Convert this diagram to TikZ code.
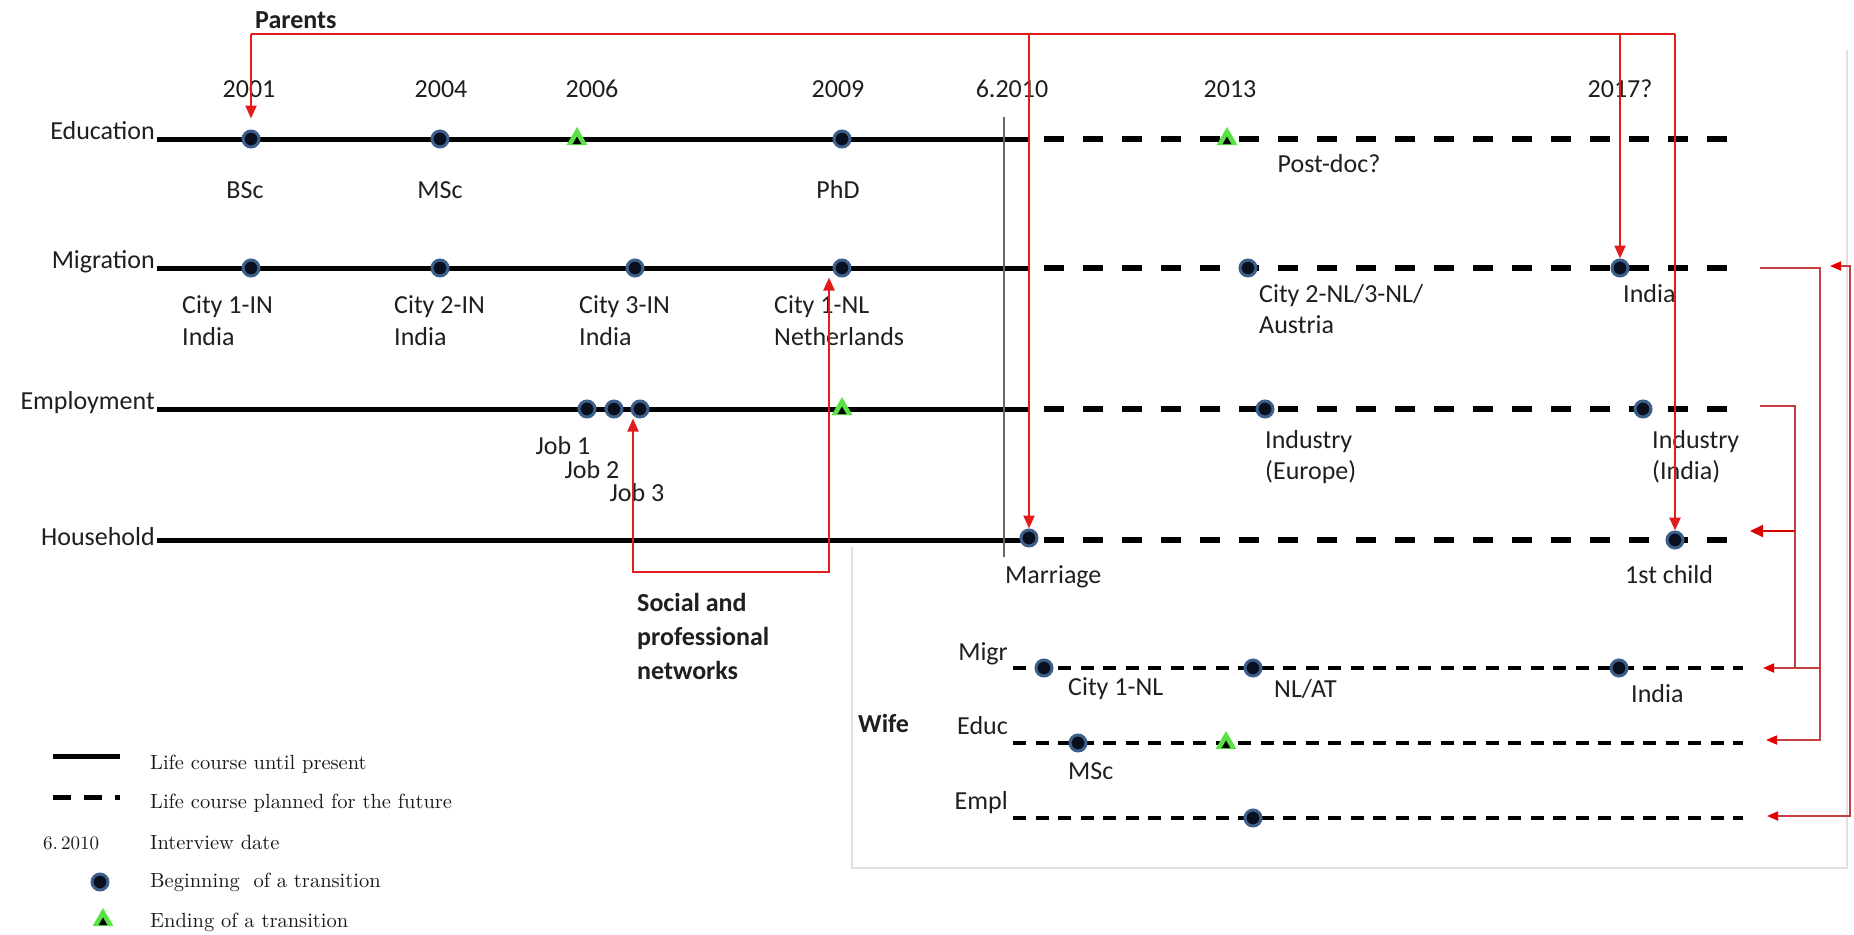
\documentclass[tikz,border=0pt]{standalone}
\usepackage{fontspec}
\newfontfamily\calib{Carlito}
\newfontfamily\legfont{lmroman10-regular}[Extension=.otf]
\usetikzlibrary{arrows.meta,shapes.geometric}
\definecolor{ring}{RGB}{60,95,140}
\definecolor{core}{RGB}{10,15,30}
\definecolor{tgreen}{RGB}{90,225,70}
\definecolor{pred}{RGB}{226,28,28}
\definecolor{rred}{RGB}{196,62,62}
\definecolor{framec}{RGB}{225,225,225}
\newcommand\tri[2]{\node[trig] (#1) at (#2) {}; \node[trib] (#1b) at ([yshift=-2.5pt]#1.center) {};}
\begin{document}
\begin{tikzpicture}[x=1pt,y=-1pt,
  lbl/.style={font=\calib\fontsize{26}{32}\selectfont, inner sep=0pt, text=black!88},
  bl/.style={lbl, font=\calib\bfseries\fontsize{26}{34}\selectfont},
  leg/.style={inner sep=0pt, anchor=base west, font=\legfont\fontsize{20.5}{24}\selectfont, text=black!90},
  life/.style={line width=5pt},
  plan/.style={line width=5.5pt, dash pattern=on 20pt off 19pt},
  wplan/.style={line width=3.5pt, dash pattern=on 13pt off 9.5pt},
  dot/.style={circle, fill=core, draw=ring, line width=3pt, minimum size=16pt, inner sep=0pt},
  trig/.style={regular polygon, regular polygon sides=3, fill=tgreen, minimum size=24pt, inner sep=0pt},
  trib/.style={regular polygon, regular polygon sides=3, fill=black, minimum size=10pt, inner sep=0pt},
  pline/.style={draw=pred, line width=2.3pt},
  parr/.style={pline, -{Triangle[length=13pt,width=11pt]}},
  pboth/.style={pline, {Triangle[length=13pt,width=11pt]}-{Triangle[length=13pt,width=11pt]}},
  rlink/.style={draw=rred, line width=1.8pt},
  rtip/.style={-{Triangle[length=11pt,width=9pt,color=red!90!black]}},
  rtips/.style={{Triangle[length=11pt,width=9pt,color=red!90!black]}-{Triangle[length=11pt,width=9pt,color=red!90!black]}},
  ]
\useasboundingbox (0,0) rectangle (1854,934);
\fill[white] (0,0) rectangle (1854,934);

% faint frame of the wife panel
\draw[framec, line width=1.5pt] (852,547) -- (852,868) -- (1847,868) -- (1847,50);

% timelines
\foreach \yy in {139,268,409,540}{
  \draw[life] (157,\yy) -- (1028,\yy);
  \draw[plan] (1044,\yy) -- (1733,\yy);
}
\foreach \yy in {668,743,818}{
  \draw[wplan] (1013,\yy) -- (1743,\yy);
}
% interview date line
\draw[line width=2.5pt, black!60] (1004,117) -- (1004,557);

% events: education
\node[dot] (e1) at (251,139) {};
\node[dot] (e2) at (440,139) {};
\tri{e3}{577,139}
\node[dot] (e4) at (842,139) {};
\tri{e5}{1227,139}
% migration
\node[dot] (m1) at (251,268) {};
\node[dot] (m2) at (440,268) {};
\node[dot] (m3) at (635,268) {};
\node[dot] (m4) at (842,268) {};
\node[dot] (m5) at (1248,268) {};
\node[dot] (m6) at (1620,268) {};
% employment
\node[dot] (p1) at (587,409) {};
\node[dot] (p2) at (614,409) {};
\node[dot] (p3) at (640,409) {};
\tri{p4}{842,409}
\node[dot] (p5) at (1265,409) {};
\node[dot] (p6) at (1643,409) {};
% household
\node[dot] (h1) at (1029,538) {};
\node[dot] (h2) at (1675,540) {};
% wife
\node[dot] (w1) at (1044,668) {};
\node[dot] (w2) at (1253,668) {};
\node[dot] (w3) at (1619,668) {};
\node[dot] (w4) at (1078,743) {};
\tri{w5}{1226,743}
\node[dot] (w6) at (1253,818) {};

% texts
\node[bl, anchor=base west] (par) at (255,29) {Parents};
\node[lbl] (y1) at (249,89) {2001};
\node[lbl] (y2) at (441,89) {2004};
\node[lbl] (y3) at (592,89) {2006};
\node[lbl] (y4) at (838,89) {2009};
\node[lbl] (y5) at (1012,89) {6.2010};
\node[lbl] (y6) at (1230,89) {2013};
\node[lbl] (y7) at (1620,89) {2017?};

\node[lbl, anchor=base east] (Ledu) at (155,139) {Education};
\node[lbl, anchor=base east] (Lmig) at (155,268) {Migration};
\node[lbl, anchor=base east] (Lemp) at (155,409) {Employment};
\node[lbl, anchor=base east] (Lhh) at (155,545) {Household};

\node[lbl, anchor=base] (t1) at (245,198) {BSc};
\node[lbl, anchor=base] (t2) at (440,198) {MSc};
\node[lbl, anchor=base] (t3) at (838,198) {PhD};
\node[lbl, anchor=base] (t4) at (1329,172) {Post-doc?};

\node[lbl, anchor=base west] (c1a) at (182,313) {City 1-IN};
\node[lbl, anchor=base west] (c1b) at (182,345) {India};
\node[lbl, anchor=base west] (c2a) at (394,313) {City 2-IN};
\node[lbl, anchor=base west] (c2b) at (394,345) {India};
\node[lbl, anchor=base west] (c3a) at (579,313) {City 3-IN};
\node[lbl, anchor=base west] (c3b) at (579,345) {India};
\node[lbl, anchor=base west] (c4a) at (774,313) {City 1-NL};
\node[lbl, anchor=base west] (c4b) at (774,345) {Netherlands};
\node[lbl, anchor=base west] (c5a) at (1259,302) {City 2-NL/3-NL/};
\node[lbl, anchor=base west] (c5b) at (1259,333) {Austria};
\node[lbl, anchor=base west] (c6) at (1623,302) {India};

\node[lbl, anchor=base] (j1) at (563,454) {Job 1};
\node[lbl, anchor=base] (j2) at (592,478) {Job 2};
\node[lbl, anchor=base] (j3) at (637,501) {Job 3};
\node[lbl, anchor=base west] (i1a) at (1265,448) {Industry};
\node[lbl, anchor=base west] (i1b) at (1265,479) {(Europe)};
\node[lbl, anchor=base west] (i2a) at (1652,448) {Industry};
\node[lbl, anchor=base west] (i2b) at (1652,479) {(India)};

\node[lbl, anchor=base west] (mar) at (1005,583) {Marriage};
\node[lbl, anchor=base west] (chi) at (1625,583) {1st child};

\node[bl, anchor=base west] (n1) at (637,611) {Social and};
\node[bl, anchor=base west] (n2) at (637,645) {professional};
\node[bl, anchor=base west] (n3) at (637,679) {networks};

\node[bl, anchor=base west] (wife) at (858,732) {Wife};
\node[lbl, anchor=base east] (wm) at (1008,660) {Migr};
\node[lbl, anchor=base east] (we) at (1008,734) {Educ};
\node[lbl, anchor=base east] (wp) at (1008,809) {Empl};
\node[lbl, anchor=base west] (wt1) at (1068,695) {City 1-NL};
\node[lbl, anchor=base west] (wt2) at (1274,697) {NL/AT};
\node[lbl, anchor=base west] (wt3) at (1631,702) {India};
\node[lbl, anchor=base west] (wt4) at (1068,779) {MSc};

% legend
\coordinate (lg1a) at (53,756); \coordinate (lg1b) at (120,756);
\coordinate (lg2a) at (53,797); \coordinate (lg2b) at (120,797);
\draw[line width=5pt] (lg1a) -- (lg1b);
\draw[line width=5pt, dash pattern=on 18pt off 13pt] (lg2a) -- (lg2b);
\node[leg] (lt1) at (150,769) {Life course until present};
\node[leg] (lt2) at (150,808) {Life course planned for the future};
\node[leg, font=\legfont\fontsize{19}{24}\selectfont] (ld) at (43,849) {6.\,2010};
\node[leg] (lt3) at (150,849) {Interview date};
\node[dot] (lgdot) at (100,882) {};
\node[leg] (lt4) at (150,887) {Beginning\ \ of a transition};
\tri{lgtri}{103,920}
\node[leg] (lt5) at (150,927) {Ending of a transition};

% parents connectors
\coordinate (pL) at (251,34);
\coordinate (pR) at (1675,34);
\draw[pline] (pL) -- (pR);
\draw[parr, shorten >=11pt] (pL) -- (e1.north);
\draw[parr] (h1 |- pL) -- (h1.north);
\draw[parr] (m6 |- pL) -- (m6.north);
\draw[parr] (pR) -- (h2.north);

% social and professional networks connector
\coordinate (netb) at (730,572);
\draw[pboth] ([xshift=-7pt]p3.south) |- (netb) -| ([xshift=-13pt]m4.south);

% wife links
\coordinate (migOut) at (1760,268);
\coordinate (migIn) at (1830,266);
\coordinate (empOut) at (1760,406);
\coordinate (hhIn) at (1750,531);
\coordinate (wMigIn) at (1763,668);
\coordinate (wEduIn) at (1766,740);
\coordinate (wEmpIn) at (1767,816);
\coordinate (busA) at (1795,0);
\coordinate (busB) at (1820,0);
\coordinate (busC) at (1850,0);
\draw[rlink] (empOut) -| (busA |- wMigIn);
\draw[rlink, line width=2.2pt, draw=red!85!black, -{Triangle[length=13pt,width=12pt]}] (busA |- hhIn) -- (hhIn);
\draw[rlink, rtip] (migOut) -| (busB |- wEduIn) -- (wEduIn);
\draw[rlink, rtip] (busB |- wMigIn) -- (wMigIn);
\draw[rlink, rtips] (migIn) -| (busC |- wEmpIn) -- (wEmpIn);
\end{tikzpicture}
\end{document}
